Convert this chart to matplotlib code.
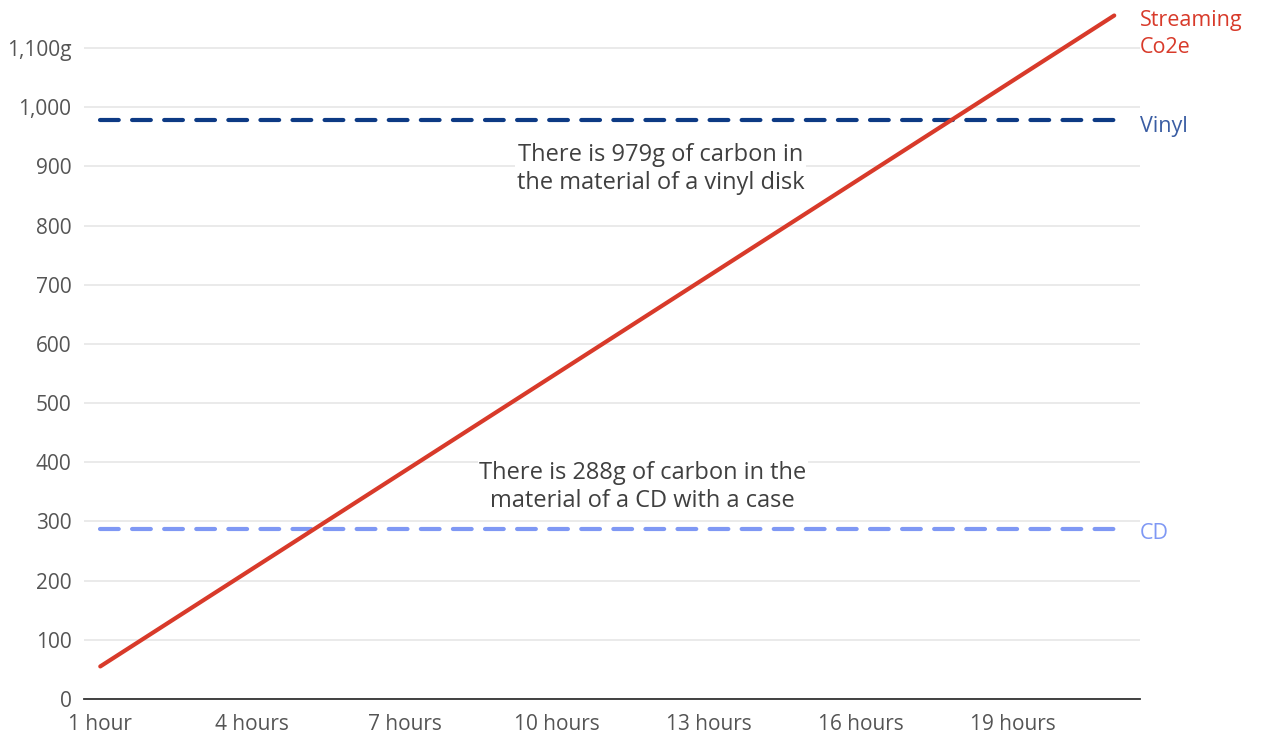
import matplotlib.pyplot as plt
import numpy as np

plt.rcParams['font.family'] = ['Open Sans', 'DejaVu Sans']

# Hours of streaming vs grams of CO2e
hours = np.array([1, 21])
streaming_g = np.array([55, 1155])
vinyl_g = 979
cd_g = 288

x_ticks = [1, 4, 7, 10, 13, 16, 19]
x_labels = ['1 hour'] + [f'{h} hours' for h in x_ticks[1:]]
y_ticks = list(range(0, 1200, 100))
y_labels = [f'{v:,}' for v in y_ticks]
y_labels[-1] = y_labels[-1] + 'g'

red = '#d83a2a'
navy = '#0d3a84'
light_blue = '#7f98f4'
text_grey = '#404040'

fig = plt.figure(figsize=(12.62, 7.36), dpi=100)
ax = fig.add_axes([0.0666, 0.0503, 0.8364, 0.9407])

ax.plot(hours, [vinyl_g, vinyl_g], color=navy, lw=3.0, dashes=(4.5, 3.2),
        dash_capstyle='round', zorder=3)
ax.plot(hours, [cd_g, cd_g], color=light_blue, lw=3.0, dashes=(4.5, 3.2),
        dash_capstyle='round', zorder=3)
ax.plot(hours, streaming_g, color=red, lw=3.0, solid_capstyle='round', zorder=4)

ax.set_xlim(0.68, 21.5)
ax.set_ylim(0, 1170)
ax.set_xticks(x_ticks)
ax.set_xticklabels(x_labels)
ax.set_yticks(y_ticks)
ax.set_yticklabels(y_labels)
ax.tick_params(length=0, labelsize=15, labelcolor='#555555')
ax.tick_params(axis='y', pad=9)
ax.tick_params(axis='x', pad=11)

ax.grid(axis='y', color='#e4e4e4', lw=1.1, zorder=0)
for side in ['top', 'right', 'left']:
    ax.spines[side].set_visible(False)
ax.spines['bottom'].set_color('#333333')
ax.spines['bottom'].set_linewidth(1.3)
ax.spines['bottom'].set_zorder(5)

# Series labels to the right of the plot
ax.text(21.5, 1124, 'Streaming\nCo2e', color=red, fontsize=15.5,
        ha='left', va='center', linespacing=1.4, clip_on=False)
ax.text(21.5, 968, 'Vinyl', color='#3a5da3', fontsize=15.5,
        ha='left', va='center', clip_on=False)
ax.text(21.5, 279, 'CD', color=light_blue, fontsize=15.5,
        ha='left', va='center', clip_on=False)

box = dict(facecolor='white', edgecolor='none', pad=1)
ax.text(12.05, 896, f'There is {vinyl_g}g of carbon in\nthe material of a vinyl disk',
        ha='center', va='center', fontsize=17, color=text_grey,
        linespacing=1.25, bbox=box, zorder=2)
ax.text(11.7, 358, f'There is {cd_g}g of carbon in the\nmaterial of a CD with a case',
        ha='center', va='center', fontsize=17, color=text_grey,
        linespacing=1.25, bbox=box, zorder=2)

fig.savefig('out.png', dpi=100)
